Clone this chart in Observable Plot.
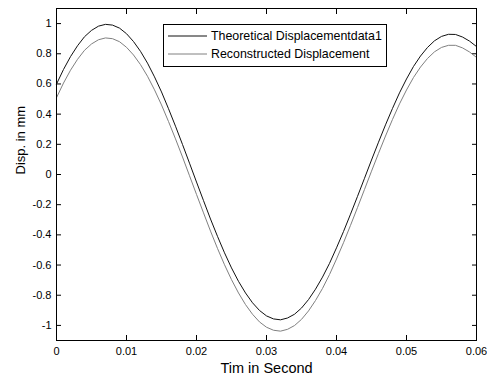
<!DOCTYPE html>
<html>
<head>
<meta charset="utf-8">
<script src="https://cdn.jsdelivr.net/npm/d3@7"></script>
<script src="https://cdn.jsdelivr.net/npm/@observablehq/plot@0.6"></script>
<style>
  body { margin: 0; background: #fff; }
  #wrap { position: relative; width: 487px; height: 383px; overflow: hidden; font-family: "Liberation Sans", Arial, sans-serif; }
  #legend { position: absolute; left: 163px; top: 24px; width: 222px; height: 41px; border: 1px solid #000; background: #fff; font-size: 12.4px; color: #000; }
  .row { position: absolute; left: 0; height: 16px; width: 220px; }
  .row svg { position: absolute; left: 4px; top: 0; }
  .row span { position: absolute; left: 47px; top: 0; line-height: 16px; white-space: nowrap; }
</style>
</head>
<body>
<div id="wrap"><div id="legend"></div></div>
<script>
// Time samples (s)
const time = [0,0.001,0.002,0.003,0.004,0.005,0.006,0.007,0.008,0.009,
  0.010,0.011,0.012,0.013,0.014,0.015,0.016,0.017,0.018,0.019,
  0.020,0.021,0.022,0.023,0.024,0.025,0.026,0.027,0.028,0.029,
  0.030,0.031,0.032,0.033,0.034,0.035,0.036,0.037,0.038,0.039,
  0.040,0.041,0.042,0.043,0.044,0.045,0.046,0.047,0.048,0.049,
  0.050,0.051,0.052,0.053,0.054,0.055,0.056,0.057,0.058,0.059,0.060];

// Theoretical displacement (mm)
const theoretical = [0.599,0.696,0.781,0.853,0.913,0.955,0.983,0.995,0.990,0.970,
  0.933,0.881,0.816,0.738,0.647,0.547,0.436,0.320,0.199,0.075,
  -0.050,-0.173,-0.295,-0.410,-0.519,-0.619,-0.708,-0.785,-0.850,-0.901,
  -0.937,-0.957,-0.963,-0.951,-0.926,-0.885,-0.829,-0.760,-0.680,-0.589,
  -0.486,-0.378,-0.263,-0.145,-0.025,0.096,0.214,0.329,0.438,0.541,
  0.633,0.716,0.785,0.842,0.886,0.915,0.929,0.928,0.911,0.884,0.848];

// Reconstructed displacement (mm)
const reconstructed = [0.509,0.606,0.691,0.763,0.823,0.865,0.893,0.905,0.900,0.880,
  0.843,0.792,0.728,0.651,0.561,0.461,0.351,0.236,0.116,-0.008,
  -0.132,-0.254,-0.375,-0.490,-0.598,-0.697,-0.785,-0.862,-0.926,-0.977,
  -1.012,-1.032,-1.038,-1.026,-1.001,-0.960,-0.904,-0.835,-0.755,-0.663,
  -0.560,-0.452,-0.337,-0.219,-0.099,0.022,0.140,0.255,0.365,0.468,
  0.560,0.643,0.712,0.769,0.813,0.842,0.856,0.856,0.839,0.812,0.776];

const seriesNames = ["Theoretical Displacementdata1", "Reconstructed Displacement"];
const seriesColors = ["#111111", "#808080"];

const xTicks = [0, 0.01, 0.02, 0.03, 0.04, 0.05, 0.06];
const yTicks = [-1, -0.8, -0.6, -0.4, -0.2, 0, 0.2, 0.4, 0.6, 0.8, 1];

const xLabel = "Tim in Second";
const yLabel = "Disp. in mm";

const fmt = d => String(+d.toFixed(2)).replace("\u2212", "-");

const theoData = time.map((t, i) => ({t, v: theoretical[i]}));
const recData = time.map((t, i) => ({t, v: reconstructed[i]}));

const chart = Plot.plot({
  width: 487,
  height: 383,
  marginLeft: 56,
  marginRight: 11,
  marginTop: 8,
  marginBottom: 43,
  style: { fontFamily: "Liberation Sans, Arial, sans-serif", fontSize: "11px", background: "#fff", color: "#000", overflow: "visible" },
  x: { domain: [0, 0.06] },
  y: { domain: [-1.1, 1.1] },
  marks: [
    Plot.axisX(xTicks, { anchor: "bottom", tickSize: -5, tickPadding: 12, tickFormat: fmt, label: null, fontSize: 11 }),
    Plot.axisX(xTicks, { anchor: "top", tickSize: -5, tickFormat: () => "", label: null }),
    Plot.axisY(yTicks, { anchor: "left", tickSize: -5, tickPadding: 10, tickFormat: fmt, label: null, fontSize: 11 }),
    Plot.axisY(yTicks, { anchor: "right", tickSize: -5, tickFormat: () => "", label: null }),
    Plot.line(theoData, { x: "t", y: "v", stroke: seriesColors[0], strokeWidth: 1 }),
    Plot.line(recData, { x: "t", y: "v", stroke: seriesColors[1], strokeWidth: 1 }),
    Plot.frame({ stroke: "#000", strokeWidth: 1 }),
    Plot.text([xLabel], { frameAnchor: "bottom", dy: 32, fontSize: 14.5, fill: "#000" }),
    Plot.text([yLabel], { frameAnchor: "left", dx: -36, rotate: -90, fontSize: 13, fill: "#000" })
  ]
});

const wrap = document.getElementById("wrap");
wrap.insertBefore(chart, wrap.firstChild);

const legend = document.getElementById("legend");
const rowTops = [3, 21];
seriesNames.forEach((name, i) => {
  const row = document.createElement("div");
  row.className = "row";
  row.style.top = rowTops[i] + "px";
  row.innerHTML = `<svg width="40" height="16"><line x1="0" x2="39" y1="8" y2="8" stroke="${seriesColors[i]}" stroke-width="1"/></svg><span>${name}</span>`;
  legend.appendChild(row);
});
</script>
</body>
</html>
